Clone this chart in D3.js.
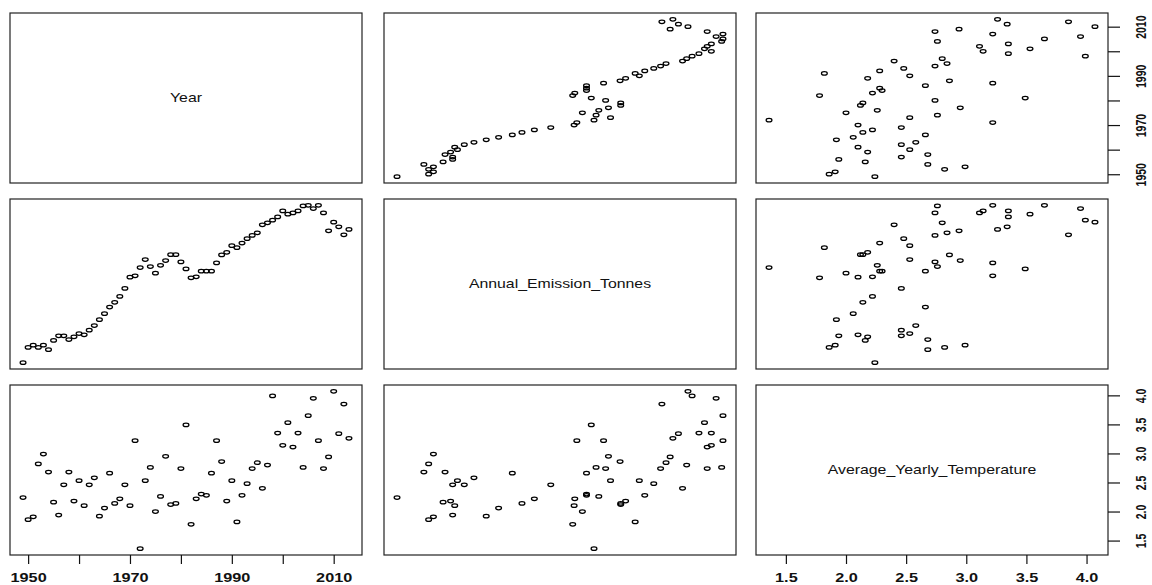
<!DOCTYPE html>
<html>
<head>
<meta charset="utf-8">
<script src="https://cdn.jsdelivr.net/npm/d3@7"></script>
<style>
  body { margin: 0; background: #fff; }
  svg { display: block; }
  .axis text { font-family: "Liberation Sans", Arial, sans-serif; fill: #111; font-weight: bold; }
  .axis line { stroke: #111; stroke-width: 1.2; }
</style>
</head>
<body>
<div id="chart"></div>
<script>
// data
const years = [
  1949, 1950, 1951, 1952, 1953, 1954, 1955, 1956, 1957, 1958,
  1959, 1960, 1961, 1962, 1963, 1964, 1965, 1966, 1967, 1968,
  1969, 1970, 1971, 1972, 1973, 1974, 1975, 1976, 1977, 1978,
  1979, 1980, 1981, 1982, 1983, 1984, 1985, 1986, 1987, 1988,
  1989, 1990, 1991, 1992, 1993, 1994, 1995, 1996, 1997, 1998,
  1999, 2000, 2001, 2002, 2003, 2004, 2005, 2006, 2007, 2008,
  2009, 2010, 2011, 2012, 2013
];
const emissions = [
  6060, 8970, 9410, 8970, 9410, 8530, 10300, 11180, 11180, 10480,
  10990, 11620, 11370, 12250, 13140, 14270, 15410, 16670, 17560, 18700,
  20210, 22360, 22610, 24190, 25710, 24380, 23120, 24630, 25520, 26650,
  26650, 25260, 23940, 22230, 22420, 23500, 23500, 23500, 25070, 26590,
  27100, 28360, 27980, 28860, 29690, 30320, 30820, 32340, 32720, 33220,
  33850, 34990, 34360, 34610, 34990, 35940, 36060, 35430, 36060, 34610,
  31200, 32840, 31960, 30440, 31450
];
const temperatures = [
  2.24, 1.86, 1.91, 2.82, 2.99, 2.68, 2.16, 1.94, 2.46, 2.68,
  2.18, 2.53, 2.10, 2.46, 2.58, 1.92, 2.06, 2.66, 2.14, 2.22,
  2.46, 2.10, 3.22, 1.36, 2.53, 2.76, 2.00, 2.26, 2.95, 2.12,
  2.14, 2.74, 3.49, 1.78, 2.22, 2.30, 2.28, 2.66, 3.22, 2.86,
  2.18, 2.53, 1.82, 2.28, 2.48, 2.74, 2.84, 2.40, 2.80, 3.99,
  3.35, 3.14, 3.53, 3.11, 3.35, 2.76, 3.65, 3.95, 3.22, 2.74,
  2.94, 4.07, 3.34, 3.85, 3.26
];
const varNames = ["Year", "Annual_Emission_Tonnes", "Average_Yearly_Temperature"];

const yearTicks = [1950, 1960, 1970, 1980, 1990, 2000, 2010];
const yearLabels = [1950, 1970, 1990, 2010];
const tempTicks = [1.5, 2.0, 2.5, 3.0, 3.5, 4.0];

const columns = [years, emissions, temperatures];

const width = 1152, height = 585;
const panelLeft = [10, 384, 756];
const panelTop = [13, 199, 385];
const panelW = 352, panelH = 170;

const svg = d3.select("#chart")
  .append("svg")
    .attr("width", width)
    .attr("height", height);

// R style range: pad the data range by 4% each side
function paddedDomain(values) {
  const [lo, hi] = d3.extent(values);
  const pad = (hi - lo) * 0.04;
  return [lo - pad, hi + pad];
}

const xScales = columns.map((vals, j) => d3.scaleLinear()
  .domain(paddedDomain(vals))
  .range([panelLeft[j], panelLeft[j] + panelW]));
const yScales = columns.map((vals, i) => d3.scaleLinear()
  .domain(paddedDomain(vals))
  .range([panelTop[i] + panelH, panelTop[i]]));

const rows = years.map((y, k) => [years[k], emissions[k], temperatures[k]]);

for (let i = 0; i < 3; i++) {
  for (let j = 0; j < 3; j++) {
    const g = svg.append("g");

    if (i === j) {
      g.append("text")
        .attr("transform", `translate(${panelLeft[j] + panelW / 2}, ${panelTop[i] + panelH / 2}) scale(1.32, 1)`)
        .attr("text-anchor", "middle")
        .attr("dy", "0.36em")
        .style("font-family", "'Liberation Sans', Arial, sans-serif")
        .style("font-size", "12px")
        .style("fill", "#111")
        .text(varNames[i]);
    } else {
      g.selectAll("ellipse")
        .data(rows)
        .join("ellipse")
          .attr("cx", d => xScales[j](d[j]))
          .attr("cy", d => yScales[i](d[i]))
          .attr("rx", 2.9)
          .attr("ry", 1.75)
          .attr("fill", "none")
          .attr("stroke", "#000")
          .attr("stroke-width", 1.25);
    }

    // panel box
    g.append("rect")
      .attr("x", panelLeft[j])
      .attr("y", panelTop[i])
      .attr("width", panelW)
      .attr("height", panelH)
      .attr("fill", "none")
      .attr("stroke", "#222")
      .attr("stroke-width", 1.2);
  }
}

// bottom axes (columns 1 and 3)
function bottomAxis(j, ticks, labels, fmt) {
  const ax = svg.append("g")
    .attr("class", "axis")
    .attr("transform", `translate(0, ${panelTop[2] + panelH})`)
    .call(d3.axisBottom(xScales[j])
      .tickValues(ticks)
      .tickSize(9)
      .tickFormat(d => labels.includes(d) ? fmt(d) : ""));
  ax.select(".domain").remove();
  ax.selectAll("text")
    .attr("y", 27.5)
    .attr("dy", null)
    .attr("transform", "scale(1.25, 1)")
    .style("font-size", "13px");
}

// right axes (rows 1 and 3)
function rightAxis(i, ticks, labels, fmt) {
  const ax = svg.append("g")
    .attr("class", "axis")
    .attr("transform", `translate(${panelLeft[2] + panelW}, 0)`)
    .call(d3.axisRight(yScales[i])
      .tickValues(ticks)
      .tickSize(12)
      .tickFormat(d => labels.includes(d) ? fmt(d) : ""));
  ax.select(".domain").remove();
  ax.selectAll("text")
    .attr("x", null)
    .attr("dy", "0.36em")
    .attr("text-anchor", "middle")
    .attr("transform", "translate(33, 0) scale(1.35, 1) rotate(-90)")
    .style("font-size", "10.5px");
}

const yearFmt = d3.format("d");
const tempFmt = d3.format(".1f");

bottomAxis(0, yearTicks, yearLabels, yearFmt);
bottomAxis(2, tempTicks, tempTicks, tempFmt);
rightAxis(0, yearTicks, yearLabels, yearFmt);
rightAxis(2, tempTicks, tempTicks, tempFmt);
</script>
</body>
</html>
